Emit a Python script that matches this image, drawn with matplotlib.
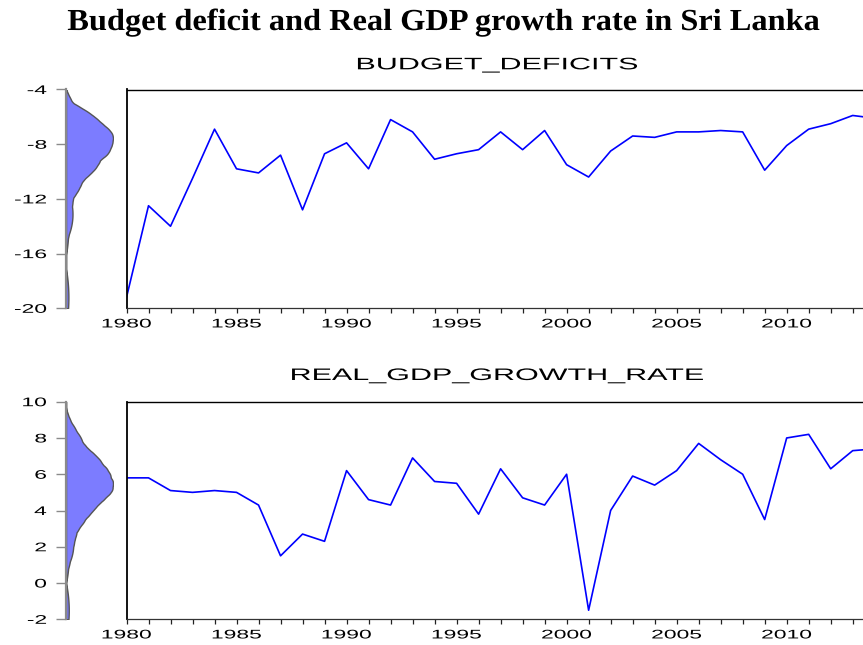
import numpy as np
import matplotlib
matplotlib.use("Agg")
import matplotlib.pyplot as plt
from matplotlib.patheffects import AbstractPathEffect
from matplotlib.transforms import Affine2D

plt.rcParams["axes.unicode_minus"] = False

W, H = 863, 645

YEARS = list(range(1980, 2015))
BUDGET_DEFICITS = [-19.2, -12.5, -14.0, -10.5, -6.9, -9.8, -10.1, -8.8, -12.8, -8.7,
                   -7.9, -9.8, -6.2, -7.1, -9.1, -8.7, -8.4, -7.1, -8.4, -7.0,
                   -9.5, -10.4, -8.5, -7.4, -7.5, -7.1, -7.1, -7.0, -7.1, -9.9,
                   -8.1, -6.9, -6.5, -5.9, -6.1]
REAL_GDP_GROWTH_RATE = [5.8, 5.8, 5.1, 5.0, 5.1, 5.0, 4.3, 1.5, 2.7, 2.3,
                        6.2, 4.6, 4.3, 6.9, 5.6, 5.5, 3.8, 6.3, 4.7, 4.3,
                        6.0, -1.5, 4.0, 5.9, 5.4, 6.2, 7.7, 6.8, 6.0, 3.5,
                        8.0, 8.2, 6.3, 7.3, 7.4]
BD_TICKS = [-20, -16, -12, -8, -4]
GDP_TICKS = [-2, 0, 2, 4, 6, 8, 10]
YEAR_LABELS = list(range(1980, 2015, 5))

TITLE = "Budget deficit and Real GDP growth rate in Sri Lanka"
SANS = "Liberation Sans"
LINE_BLUE = "#0000ff"
FILL = "#7c7cff"


class Stretch(AbstractPathEffect):
    """Etire le texte horizontalement (police large facon EViews)."""
    def __init__(self, sx=1.83, anchor="center"):
        super().__init__()
        self.sx = sx
        self.anchor = anchor

    def draw_path(self, renderer, gc, tpath, affine, rgbFace=None):
        ext = tpath.get_extents()
        x0 = (ext.x0 + ext.x1) / 2 if self.anchor == "center" else ext.x1
        t = Affine2D().translate(-x0, 0).scale(self.sx, 1).translate(x0, 0)
        renderer.draw_path(gc, tpath, t + affine, rgbFace)


def box(left, top, right, bottom):
    return [left / W, 1 - bottom / H, (right - left) / W, (bottom - top) / H]


def kde_epanechnikov(values, grid):
    x = np.asarray(values)
    n = len(x)
    q75, q25 = np.percentile(x, [75, 25])
    h = 0.9 * 2.34 * n ** (-0.2) * min(x.std(ddof=1), (q75 - q25) / 1.34)
    u = (grid[:, None] - x[None, :]) / h
    k = np.where(np.abs(u) <= 1, 0.75 * (1 - u ** 2), 0.0)
    return k.sum(axis=1) / (n * h)


def panel(fig, name, values, ylim, yticks, top, bottom, sub_base):
    # densite a gauche
    axd = fig.add_axes(box(66, top, 113, bottom))
    grid = np.linspace(ylim[0], ylim[1], 600)
    dens = kde_epanechnikov(values, grid)
    axd.fill_betweenx(grid, 0, dens, facecolor=FILL, edgecolor="#555555",
                      linewidth=1.0)
    axd.set_xlim(0, dens.max())
    axd.set_ylim(*ylim)
    for s in ("top", "right", "bottom"):
        axd.spines[s].set_visible(False)
    axd.spines["left"].set_color("#8a8a8a")
    axd.spines["left"].set_linewidth(1.6)
    axd.set_xticks([])
    axd.set_yticks(yticks)
    axd.tick_params(axis="y", direction="out", length=7.5, width=1.0,
                    color="#8a8a8a", pad=6.5, labelsize=9)
    for lab in axd.get_yticklabels():
        lab.set_family(SANS)
        lab.set_path_effects([Stretch(anchor="right")])

    # serie temporelle
    ax = fig.add_axes(box(126.5, top, 874.7, bottom))
    ax.plot(YEARS, values, color=LINE_BLUE, linewidth=1.2)
    ax.set_xlim(YEARS[0], YEARS[-1])
    ax.set_ylim(*ylim)
    ax.spines["right"].set_visible(False)
    ax.spines["left"].set_linewidth(1.3)
    ax.spines["top"].set_linewidth(1.0)
    ax.spines["bottom"].set_linewidth(0.9)
    ax.spines["bottom"].set_color("#333333")
    ax.set_yticks([])
    ax.set_xticks(YEAR_LABELS)
    ax.set_xticks(YEARS, minor=True)
    ax.tick_params(axis="x", which="both", direction="out", length=3.8,
                   width=0.9, color="#222222", pad=3.5, labelsize=9)
    for lab in ax.get_xticklabels():
        lab.set_family(SANS)
        lab.set_path_effects([Stretch()])

    fig.text(497 / W, 1 - sub_base / H, name, ha="center", va="baseline",
             fontsize=12, family=SANS, path_effects=[Stretch()])


def main():
    fig = plt.figure(figsize=(W / 100, H / 100), dpi=100)
    fig.text(444 / W, 1 - 30 / H, TITLE, ha="center", va="baseline",
             fontsize=22, fontweight="bold", family="Liberation Serif",
             path_effects=[Stretch(sx=1.06)])
    panel(fig, "BUDGET_DEFICITS", BUDGET_DEFICITS, (-20, -4), BD_TICKS,
          89.5, 308.3, 69.3)
    panel(fig, "REAL_GDP_GROWTH_RATE", REAL_GDP_GROWTH_RATE, (-2, 10), GDP_TICKS,
          401.7, 619.3, 380.0)
    fig.savefig("out.png", dpi=100)
    plt.close(fig)


if __name__ == "__main__":
    main()
